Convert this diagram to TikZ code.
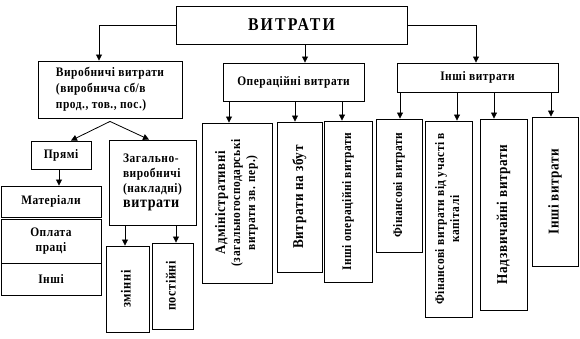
\documentclass[tikz,border=0pt]{standalone}
\usepackage{fontspec}
\setmainfont{Liberation Serif}[LetterSpace=4,FakeStretch=0.88]
\usetikzlibrary{arrows.meta}
\newcommand{\rot}[1]{\rotatebox{90}{\begin{tabular}{@{}c@{}}#1\end{tabular}}}
\begin{document}
\begin{tikzpicture}[x=1pt,y=-1pt,
  box/.style={draw, line width=0.9pt, inner sep=0pt, align=center,
    font=\bfseries\fontsize{13}{15}\selectfont},
  sz/.style 2 args={minimum width=#1pt, minimum height=#2pt},
  arr/.style={line width=0.8pt, -{Triangle[length=6pt,width=6pt]}},
  ln/.style={line width=0.8pt}]
\useasboundingbox (0,0) rectangle (580,339);
% top level
\node[box, sz={231}{38}, font=\bfseries\fontsize{18}{20}\selectfont\addfontfeatures{LetterSpace=12}] (top) at (291.5,25) {ВИТРАТИ};
\node[box, sz={144}{57}, align=left, font=\bfseries\fontsize{13}{16}\selectfont] (vyr) at (110,89.5)
  {Виробничі витрати\\(виробнича сб/в\\прод., тов., пос.)};
\node[box, sz={141}{38}] (oper) at (293.5,82) {Операційні витрати};
\node[box, sz={161}{29}] (inshi) at (477.5,77.5) {Інші витрати};
% production branch
\node[box, sz={60}{28}] (pryami) at (61,155) {Прямі};
\node[box, sz={87}{85}, align=left, font=\bfseries\fontsize{13}{15}\selectfont] (zag) at (152.5,182.5)
  {Загально-\\виробничі\\(накладні)\\{\fontsize{16}{21}\selectfont витрати}};
\node[box, sz={100}{31}] (mat) at (51,201.5) {Матеріали};
\node[box, sz={100}{44}, font=\bfseries\fontsize{13}{15}\selectfont] (opl) at (51,241) {Оплата\\праці};
\node[box, sz={100}{32}] (insh2) at (51,279) {Інші};
\node[box, sz={43}{86}, font=\bfseries\fontsize{14}{16}\selectfont] (zminni) at (127.5,289) {\rot{змінні}};
\node[box, sz={41}{86}, font=\bfseries\fontsize{14}{16}\selectfont] (post) at (172.5,286) {\rot{постійні}};
% operational branch
\node[box, sz={70}{160}, font=\bfseries\fontsize{13}{15}\selectfont] (admin) at (237,203)
  {\rot{{\fontsize{14.5}{15}\selectfont Адміністративні}\\(загальногосподарські\\витрати зв. пер.)}};
\node[box, sz={45}{150}, font=\bfseries\fontsize{15}{18}\selectfont] (zbut) at (299.5,197) {\rot{Витрати на збут}};
\node[box, sz={48}{161}, font=\bfseries\fontsize{13}{15}\selectfont] (inop) at (348,201.5) {\rot{Інші операційні витрати}};
% other branch
\node[box, sz={46}{133}] (fin) at (399,185.5) {\rot{Фінансові витрати}};
\node[box, sz={47}{196}, font=\bfseries\fontsize{13}{15}\selectfont] (finu) at (448.5,219)
  {\rot{Фінансові витрати від участі в\\капіталі}};
\node[box, sz={47}{191}, font=\bfseries\fontsize{15}{18}\selectfont] (nadz) at (503.5,214.5) {\rot{Надзвичайні витрати}};
\node[box, sz={46}{149}, font=\bfseries\fontsize{15}{18}\selectfont] (inv) at (555,191.5) {\rot{Інші витрати}};
% connectors from top
\draw[arr] (top.west) -| ([xshift=-11pt]vyr.north);
\draw[arr] ([xshift=13.5pt]top.south) -- ([xshift=13.5pt]top.south |- oper.north);
\draw[arr] (top.east) -| ([xshift=-1.5pt]inshi.north);
% production
\coordinate (apex) at ([yshift=-3pt]vyr.south);
\draw[arr] (apex) -- ([xshift=10pt]pryami.north);
\draw[arr] (apex) -- ([xshift=-3.5pt]zag.north);
\draw[arr] ([xshift=-2pt]pryami.south) -- ([xshift=-2pt]pryami.south |- mat.north);
\draw[arr] ([xshift=-27.5pt]zag.south) -- ([xshift=-27.5pt]zag.south |- zminni.north);
\draw[arr] ([xshift=23.5pt]zag.south) -- ([xshift=23.5pt]zag.south |- post.north);
% operational
\draw[arr] ([xshift=-64.5pt]oper.south) -- ([xshift=-64.5pt]oper.south |- admin.north);
\draw[arr] ([xshift=1.5pt]oper.south) -- ([xshift=1.5pt]oper.south |- zbut.north);
\draw[arr] ([xshift=48.5pt]oper.south) -- ([xshift=48.5pt]oper.south |- inop.north);
% other
\draw[arr] ([xshift=-77.5pt]inshi.south) -- ([xshift=-77.5pt]inshi.south |- fin.north);
\draw[arr] ([xshift=-20.5pt]inshi.south) -- ([xshift=-20.5pt]inshi.south |- finu.north);
\draw[arr] ([xshift=16.5pt]inshi.south) -- ([xshift=16.5pt]inshi.south |- nadz.north);
\draw[arr] ([xshift=73.5pt]inshi.south) -- ([xshift=73.5pt]inshi.south |- inv.north);
\end{tikzpicture}
\end{document}
